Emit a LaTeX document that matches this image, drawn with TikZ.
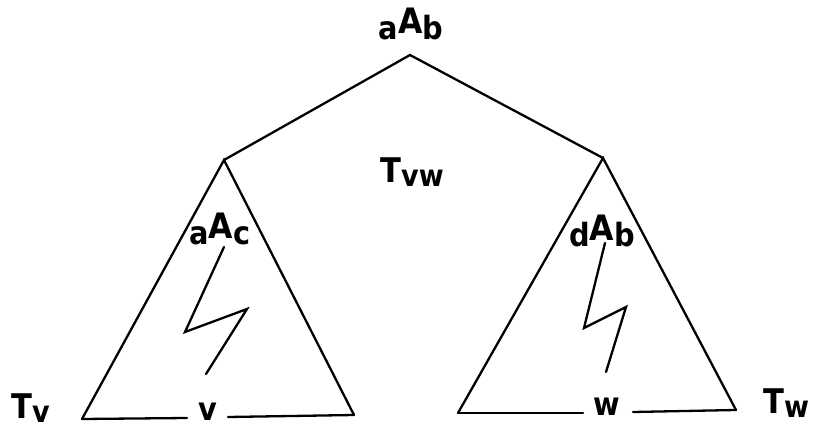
\documentclass[tikz,border=0pt]{standalone}
\usepackage{fontspec}
\setmainfont{DejaVu Sans Condensed}
\newcommand{\lw}[1]{{\fontsize{32}{32}\selectfont #1}}
\newcommand{\bigA}{\raisebox{6pt}{\fontsize{35}{35}\selectfont A}}
\newcommand{\bigT}{{\fontsize{34}{34}\selectfont T}}
\newcommand{\lowsub}[1]{\raisebox{-4pt}{\fontsize{30}{30}\selectfont #1}}
\begin{document}
\begin{tikzpicture}[x=1pt,y=-1pt,
  treeline/.style={line width=2.3pt,line join=miter,line cap=round},
  lbl/.style={inner sep=0pt,anchor=base,font=\bfseries}]
\useasboundingbox (0,0) rectangle (816,430);

% vertices of the two subtrees and the connecting tree
\coordinate (top) at (410,55);
\coordinate (lv) at (224,160);
\coordinate (rv) at (603,158);
\coordinate (lbl) at (82,419);
\coordinate (lbr) at (354,415);
\coordinate (rbl) at (458,413);
\coordinate (rbr) at (736,410);

% labels
\node[lbl] (root) at (411,40) {\lw{a}\bigA\lw{b}};
\node[lbl] (tvw) at (412,183) {\bigT\lowsub{vw}};
\node[lbl] (ac) at (220,245) {\lw{a}\bigA\lw{c}};
\node[lbl] (db) at (602,247) {\lw{d}\bigA\lw{b}};
\node[lbl,anchor=base west] (tv) at (11,418) {\bigT\lowsub{v}};
\node[lbl,anchor=base west] (tw) at (763,413) {\bigT\lowsub{w}};
\node[lbl] (v) at (208,420) {\lw{v}};
\node[lbl] (w) at (607,415) {\lw{w}};

% upper tree
\draw[treeline] (lv) -- (top) -- (rv);

% left subtree, its base broken around the leaf v
\draw[treeline] (lbl) -- (lv) -- (lbr);
\draw[treeline] (lbl) -- (187,418);
\draw[treeline] (228,417) -- (lbr);
\draw[treeline] (224,247) -- (185,332) -- (247,309) -- (206,374);

% right subtree, its base broken around the leaf w
\draw[treeline] (rbl) -- (rv) -- (rbr);
\draw[treeline] (rbl) -- (583,413);
\draw[treeline] (633,412) -- (rbr);
\draw[treeline] (605,243) -- (584,328) -- (626,307) -- (606,372);
\end{tikzpicture}
\end{document}
